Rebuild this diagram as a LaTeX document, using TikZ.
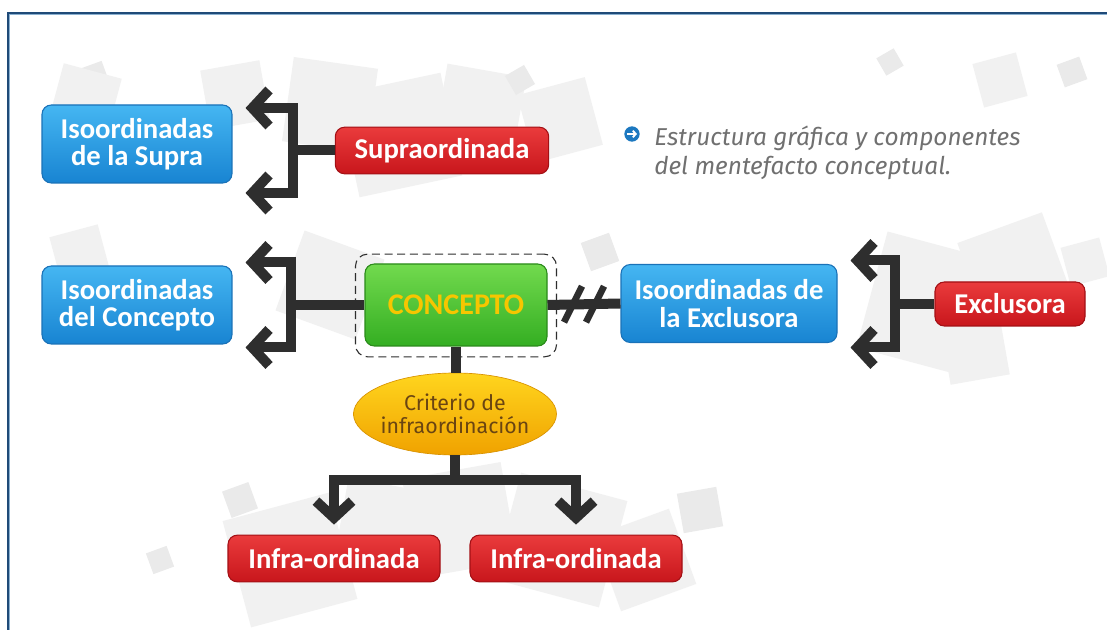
\documentclass[tikz,border=0pt]{standalone}
\usepackage{fontspec}
\setmainfont{Carlito}
\newfontfamily\fira{Fira Sans}
\usetikzlibrary{arrows.meta,shapes.geometric,calc}
\definecolor{blueT}{HTML}{45B6F2}
\definecolor{blueB}{HTML}{1884D2}
\definecolor{blueD}{HTML}{1A72B8}
\definecolor{redT}{HTML}{EA3B3C}
\definecolor{redB}{HTML}{C8161C}
\definecolor{redD}{HTML}{A31015}
\definecolor{greenT}{HTML}{72DA4E}
\definecolor{greenB}{HTML}{34AE22}
\definecolor{greenD}{HTML}{2A8A1A}
\definecolor{conceptText}{HTML}{F6C600}
\definecolor{ellT}{HTML}{FFD51E}
\definecolor{ellB}{HTML}{F0A200}
\definecolor{ellText}{HTML}{6A4512}
\definecolor{lineC}{HTML}{2E2E2E}
\definecolor{frameD}{HTML}{1F4A78}
\definecolor{frameL}{HTML}{8AB0D0}
\definecolor{bgc}{HTML}{F1F1F1}
\definecolor{bgd}{HTML}{EAEAEA}
\definecolor{capC}{HTML}{707070}
\definecolor{bulletC}{HTML}{1C78C0}
\newcommand\bgsq[5]{\fill[#5,rotate around={#4:(#1,#2)}] (#1-#3/2,#2-#3/2) rectangle (#1+#3/2,#2+#3/2);}
\begin{document}
\begin{tikzpicture}[x=0.75pt,y=-0.75pt,
  conn/.style={draw=lineC, line width=7.5pt, line join=miter},
  chev/.tip={Straight Barb[length=12.5pt,width=27pt]},
  box/.style={rounded corners=7pt, text=white, font=\bfseries\fontsize{21.5}{20.5}\selectfont, align=center, inner sep=0pt, line width=0.8pt},
  bluebox/.style={box, draw=blueD, top color=blueT, bottom color=blueB, minimum width=142.5pt, minimum height=58.5pt},
  redbox/.style={box, draw=redD, top color=redT, bottom color=redB, minimum height=35pt},
  slash/.style={draw=lineC, line width=5pt}
]
\useasboundingbox (0,0) rectangle (1107,630);
\fill[white] (0,0) rectangle (1107,630);
% background texture
\bgsq{95}{75}{22}{20}{bgd}
\bgsq{85}{100}{60}{-15}{bgc}
\bgsq{235}{95}{60}{10}{bgc}
\bgsq{330}{105}{85}{-8}{bgc}
\bgsq{400}{135}{105}{12}{bgc}
\bgsq{480}{110}{80}{-10}{bgc}
\bgsq{560}{120}{70}{15}{bgc}
\bgsq{520}{80}{22}{30}{bgd}
\bgsq{890}{62}{20}{30}{bgd}
\bgsq{1000}{80}{45}{15}{bgc}
\bgsq{1072}{72}{24}{20}{bgd}
\bgsq{80}{255}{50}{15}{bgc}
\bgsq{330}{285}{85}{-20}{bgc}
\bgsq{600}{252}{30}{20}{bgd}
\bgsq{930}{305}{120}{-15}{bgc}
\bgsq{1015}{270}{90}{20}{bgc}
\bgsq{1085}{262}{40}{15}{bgc}
\bgsq{975}{350}{60}{10}{bgc}
\bgsq{240}{500}{28}{20}{bgd}
\bgsq{290}{560}{110}{15}{bgc}
\bgsq{385}{530}{90}{-10}{bgc}
\bgsq{460}{520}{100}{10}{bgc}
\bgsq{560}{540}{110}{-15}{bgc}
\bgsq{645}{560}{80}{20}{bgc}
\bgsq{700}{510}{40}{10}{bgd}
\bgsq{160}{560}{22}{20}{bgd}
% frame
\draw[frameD, line width=1.2pt] (8,630) -- (8,13.3) -- (1107,13.3);
\draw[frameL, line width=0.75pt] (9.6,630) -- (9.6,14.9) -- (1107,14.9);
% nodes
\node[bluebox] (isosupra) at (137,144) {Isoordinadas\\de la Supra};
\node[redbox, minimum width=160pt] (supra) at (442,150.5) {Supraordinada};
\node[bluebox] (isoconc) at (137,305) {Isoordinadas\\del Concepto};
\node[draw=lineC, dashed, line width=0.8pt, rounded corners=9pt, minimum width=150.75pt, minimum height=77pt, dash pattern=on 6pt off 3.5pt] (cframe) at (456,305.5) {};
\node[box, draw=greenD, top color=greenT, bottom color=greenB, minimum width=136.5pt, minimum height=61.5pt, text=conceptText, font=\bfseries\fontsize{22.5}{22}\selectfont] (concepto) at (456,305) {CONCEPTO};
\node[bluebox, minimum width=162pt] (isoexcl) at (729,303.5) {Isoordinadas de\\la Exclusora};
\node[redbox, minimum width=112.5pt, minimum height=33pt] (excl) at (1010,304) {Exclusora};
\node[ellipse, inner sep=-2pt, minimum width=152pt, minimum height=61.5pt, top color=ellT, bottom color=ellB, draw=ellB!90!black, line width=0.5pt, text=ellText, align=center, font=\fira\fontsize{16}{17.5}\selectfont] (crit) at (455,414) {Criterio de\\infraordinación};
\node[redbox, minimum width=159pt] (infra1) at (334,558.5) {Infra-ordinada};
\node[redbox, minimum width=159pt] (infra2) at (576,558.5) {Infra-ordinada};
% caption
\node[circle, fill=bulletC, inner sep=0pt, minimum size=11.5pt] (bul) at (632,134) {};
\draw[white, line width=1.4pt, -{Straight Barb[length=2.2pt,width=5pt]}] ($(bul.center)+(-5,0)$) -- ($(bul.center)+(5,0)$);
\node[anchor=west, align=left, text=capC, font=\fira\itshape\fontsize{18.3}{21.5}\selectfont, inner sep=0pt] (cap) at (654,153) {Estructura gráfica y componentes\\del mentefacto conceptual.};
% connectors
\coordinate (sq) at ($(isosupra.east |- supra.center)+(60,0)$);
\draw[conn] (supra.west) -- (sq);
\draw[conn,chev-chev] ($(isosupra.east |- supra.center)+(13,-42.5)$) -| (sq) |- ($(isosupra.east |- supra.center)+(13,42.5)$);
\coordinate (cq) at ($(isoconc.east |- concepto.center)+(58,0)$);
\draw[conn] (concepto.west) -- (cq);
\draw[conn,chev-chev] ($(isoconc.east |- concepto.center)+(13,-42.5)$) -| (cq) |- ($(isoconc.east |- concepto.center)+(13,42.5)$);
\coordinate (eq) at ($(isoexcl.east |- excl.center)+(57,0)$);
\draw[conn] (excl.west) -- (eq);
\draw[conn,chev-chev] ($(isoexcl.east |- excl.center)+(13,-43.5)$) -| (eq) |- ($(isoexcl.east |- excl.center)+(13,43.5)$);
\draw[conn] (concepto.east) -- (isoexcl.west) coordinate[pos=0.5] (mid);
\draw[slash] ($(mid)+(-20,18)$) -- ($(mid)+(-2,-18)$);
\draw[slash] ($(mid)+(2,18)$) -- ($(mid)+(20,-18)$);
\draw[conn] (concepto.south) -- (concepto.south |- crit.north);
\coordinate (tj) at ($(crit.south)+(0,25)$);
\draw[conn] (crit.south) -- (tj);
\draw[conn,chev-chev] ($(infra1.north)+(0,-10)$) |- (tj) -| ($(infra2.north)+(0,-10)$);
\end{tikzpicture}
\end{document}
